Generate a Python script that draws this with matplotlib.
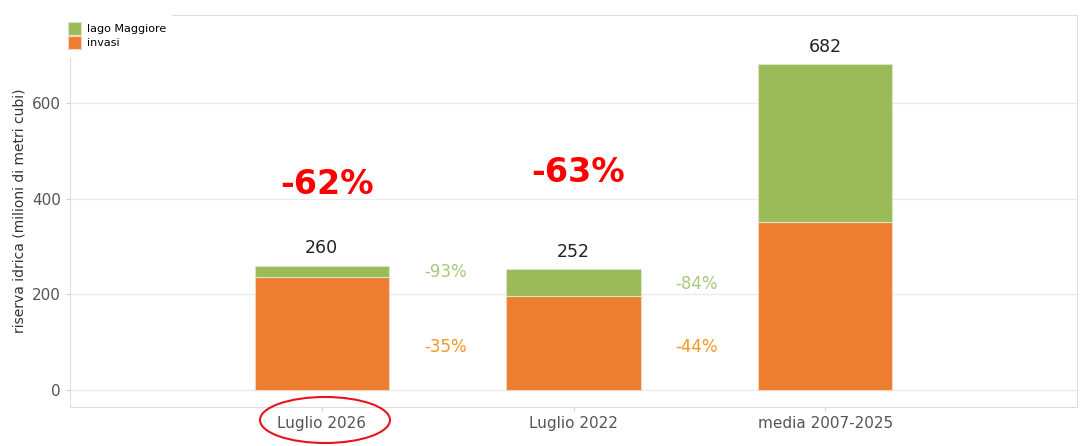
import numpy as np
import matplotlib
matplotlib.use("Agg")
import matplotlib.pyplot as plt
from matplotlib.patches import Ellipse, Rectangle

categories = ["Luglio 2026", "Luglio 2022", "media 2007-2025"]
invasi = [237, 197, 352]
lago = [23, 55, 330]
totals = [260, 252, 682]
lago_pct = ["-93%", "-84%"]
invasi_pct = ["-35%", "-44%"]
total_pct = ["-62%", "-63%"]

GREEN = "#9bbb59"
ORANGE = "#ed7d31"
GRID = "#ebebeb"

fig = plt.figure(figsize=(10.9, 4.46), dpi=100)
ax = fig.add_axes([70 / 1090, 39 / 446, 1007 / 1090, 392 / 446])

x = np.arange(len(categories))
w = 0.533
ax.bar(x, invasi, w, color=ORANGE, edgecolor="#f6d3bd", linewidth=0.8, label="invasi", zorder=3)
ax.bar(x, lago, w, bottom=invasi, color=GREEN, edgecolor="#d9e6c4", linewidth=0.8,
       label="lago Maggiore", zorder=3)

for xi, t in zip(x, totals):
    ax.text(xi, t + 18, str(t), ha="center", va="bottom", fontsize=12.5, color="#222222")

# variazioni tra le barre
for xi, lp, ip, yy in zip(x[:2], lago_pct, invasi_pct, [247, 222]):
    ax.text(xi + 0.49, yy, lp, ha="center", va="center", fontsize=12, color="#a9c97a")
    ax.text(xi + 0.49, 90, ip, ha="center", va="center", fontsize=12, color="#f5961e")

for xi, tp, yy in zip(x[:2], total_pct, [430, 455]):
    ax.text(xi + 0.02, yy, tp, ha="center", va="center", fontsize=24, fontweight="bold",
            color="#ff0000")

ax.set_xlim(-1, 3)
ax.set_ylim(-36, 785)
ax.set_yticks([0, 200, 400, 600])
ax.set_xticks(x)
ax.set_xticklabels(categories)
ax.yaxis.grid(True, color=GRID, linewidth=1, zorder=0)
ax.set_axisbelow(True)
ax.tick_params(axis="both", colors="#d0d0d0", labelcolor="#555555", labelsize=11, length=3)
for s in ax.spines.values():
    s.set_color("#dedede")
ax.set_ylabel("riserva idrica (milioni di metri cubi)", fontsize=10, color="#333333", labelpad=4)

# box bianco della legenda sopra l'angolo del riquadro
fig.patches.append(Rectangle((58 / 1090, 1 - 58 / 446), 114 / 1090, 58 / 446,
                             transform=fig.transFigure, facecolor="white", edgecolor="none",
                             zorder=4))

handles, labels = ax.get_legend_handles_labels()
leg = fig.legend(handles[::-1], labels[::-1], loc="upper left", bbox_to_anchor=(60 / 1090, 1 - 14 / 446),
                 fontsize=8, frameon=False, handlelength=1.15, handleheight=1.45,
                 handletextpad=0.6, labelspacing=0.05, borderpad=0.2)
leg.set_zorder(6)

ell = Ellipse((325 / 1090, 1 - 420 / 446), 130 / 1090, 46 / 446, transform=fig.transFigure,
              fill=False, edgecolor="#e8141c", linewidth=1.5)
fig.patches.append(ell)

fig.savefig("out.png", dpi=100, facecolor="white")
